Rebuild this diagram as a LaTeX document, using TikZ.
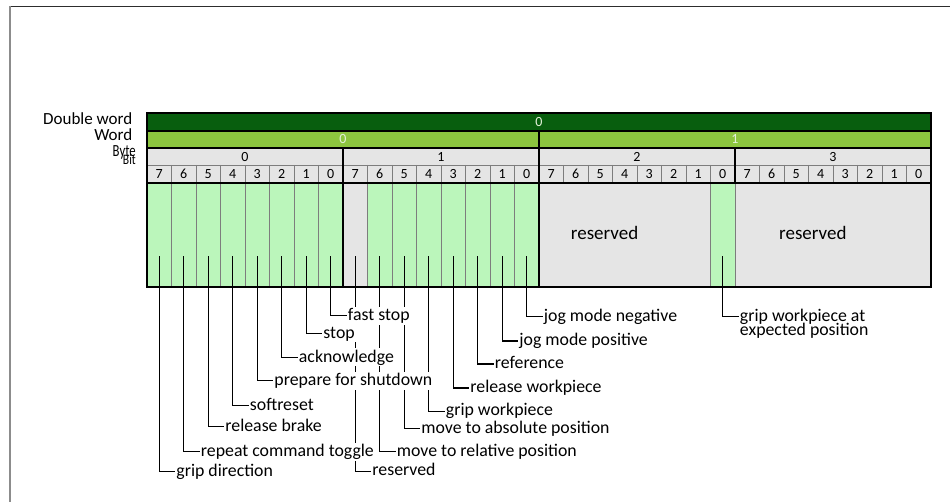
\documentclass[tikz,border=0pt]{standalone}
\usepackage{fontspec}
\setmainfont{Carlito}
\definecolor{dwgreen}{RGB}{8,94,14}
\definecolor{wgreen}{RGB}{141,198,63}
\definecolor{cellgray}{RGB}{229,229,229}
\definecolor{bitgreen}{RGB}{187,246,187}
\definecolor{sepgray}{RGB}{125,125,125}
\definecolor{paletext}{RGB}{228,242,218}
\definecolor{framedark}{RGB}{45,45,45}
\definecolor{framegray}{RGB}{140,140,140}
\pgfdeclarelayer{bg}
\pgfdeclarelayer{leads}
\pgfsetlayers{bg,leads,main}
\begin{document}
\begin{tikzpicture}[x=1pt,y=-1pt,
  rowlbl/.style={anchor=base east,inner sep=0pt,font=\fontsize{17}{17}\selectfont},
  cellnum/.style={anchor=base,inner sep=0pt,font=\fontsize{14}{14}\selectfont},
  bigtxt/.style={anchor=base west,inner sep=0pt,font=\fontsize{19}{19}\selectfont},
  lbl/.style={anchor=west,fill=white,inner xsep=1pt,inner ysep=1.2pt,
    text height=12.5pt,text depth=3pt,font=\fontsize{17.8}{14}\selectfont},
  thick line/.style={line width=1.5pt,black},
  thin sep/.style={line width=0.8pt,sepgray},
  lead/.style={line width=1.3pt,black}]
\useasboundingbox (0,0) rectangle (950,502);

% page frame
\draw[line width=1.4pt,framedark] (9,6.5) -- (950,6.5);
\draw[line width=1.6pt,framegray] (10,6) -- (10,502);

% row captions
\node[rowlbl] (capdw) at (132.5,124.3) {Double word};
\node[rowlbl] (capw)  at (132.5,140.7) {Word};
\node[rowlbl] (capb)  at (136,156.7) {\scalebox{0.75}[1]{Byte}};
\node[rowlbl] (capbit) at (136,165) {\scalebox{0.68}[0.85]{Bit}};

\begin{pgfonlayer}{bg}
  % rows
  \fill[dwgreen] (147,113) rectangle (931,131);
  \fill[wgreen] (147,131) rectangle (931,148);
  \fill[cellgray] (147,148) rectangle (931,183);
  % bit area
  \fill[bitgreen] (147,183) rectangle (931,287);
  \fill[cellgray] (343,183) rectangle (367.5,287);
  \fill[cellgray] (539,183) rectangle (710.5,287);
  \fill[cellgray] (735,183) rectangle (931,287);
  % thin separators
  \draw[thin sep] (147,165) -- (931,165);
  \foreach \k in {1,...,7,9,10,...,15,17,18,...,23,25,26,...,31}
    \draw[thin sep] (147+24.5*\k,165) -- (147+24.5*\k,183);
  \foreach \k in {1,...,7,9,10,...,15,23,24}
    \draw[thin sep] (147+24.5*\k,183) -- (147+24.5*\k,287);
  % heavy lines
  \draw[thick line] (147,131) -- (931,131);
  \draw[thick line] (147,148) -- (931,148);
  \draw[thick line] (147,183) -- (931,183);
  \draw[thick line] (539,131) -- (539,287);
  \draw[thick line] (343,148) -- (343,287);
  \draw[thick line] (735,148) -- (735,183);
  \draw[thick line] (147,113) rectangle (931,287);
\end{pgfonlayer}

% numbers
\node[cellnum,text=paletext] (dw0) at (539,126.7) {0};
\node[cellnum,text=paletext] (w0) at (343,143.3) {0};
\node[cellnum,text=paletext] (w1) at (735,143.3) {1};
\foreach \b in {0,1,2,3}
  \node[cellnum] (byte\b) at (245+196*\b,161.3) {\b};
\foreach \i in {0,...,31}{
  \pgfmathtruncatemacro\d{7-mod(\i,8)}
  \node[cellnum] (bit\i) at (159.25+24.5*\i,178.7) {\d};
}
\node[bigtxt] (res2) at (570.7,239.3) {reserved};
\node[bigtxt] (res3) at (779,239.3) {reserved};

% bit descriptions
\foreach \c/\ly/\t/\n in {
  0/471.7/grip direction/gd,
  1/451.7/repeat command toggle/rct,
  2/426.7/release brake/rb,
  3/405.5/softreset/sr,
  4/380.7/prepare for shutdown/pfs,
  5/357.3/acknowledge/ack,
  6/333.3/stop/st,
  7/315.7/fast stop/fs,
  8/471.2/reserved/rsv,
  9/451.7/move to relative position/mrp,
  10/428.5/move to absolute position/map,
  11/411.2/grip workpiece/gw,
  12/388/release workpiece/rw,
  13/364/reference/ref,
  14/341/jog mode positive/jmp,
  15/316.7/jog mode negative/jmn}{
  \coordinate (src\n) at (159.25+24.5*\c,256.5);
  \node[lbl] (d\n) at (159.25+24.5*\c+16,\ly) {\t};
  \begin{pgfonlayer}{leads}
    \draw[lead] (src\n) |- (d\n.west);
  \end{pgfonlayer}
}
\coordinate (srcgwe) at (159.25+24.5*23,256.5);
\node[lbl] (dgwe) at (159.25+24.5*23+16,316.7)
  {\vtop{\lineskiplimit=-20pt\hbox{grip workpiece at}\hbox{expected position}}};
\begin{pgfonlayer}{leads}
  \draw[lead] (srcgwe) |- (dgwe.west);
\end{pgfonlayer}
\end{tikzpicture}
\end{document}
